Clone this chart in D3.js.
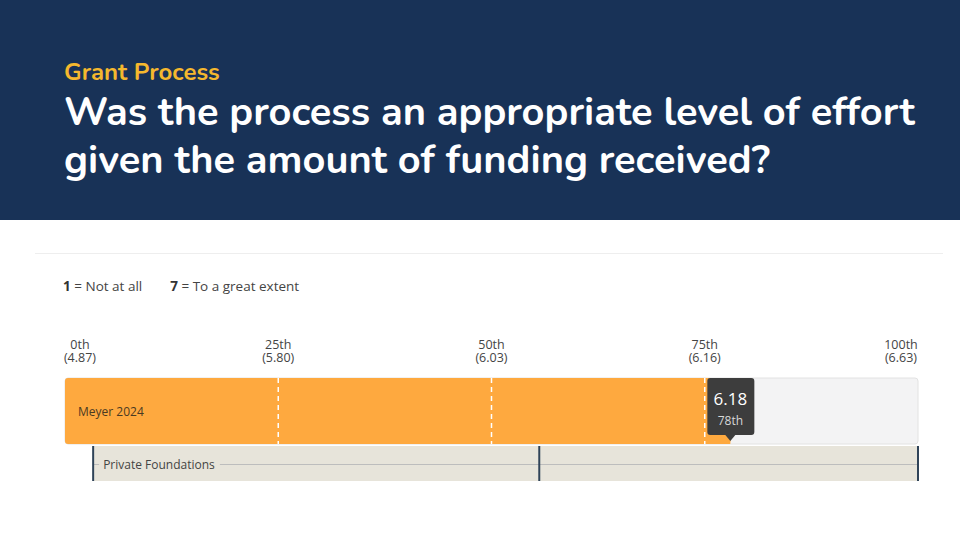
<!DOCTYPE html>
<html>
<head>
<meta charset="utf-8">
<script src="https://cdn.jsdelivr.net/npm/d3@7"></script>
<style>
  body { margin: 0; background: #fff; }
  svg { display: block; }
</style>
</head>
<body>
<div id="chart"></div>
<script>
// data
const tickPercentiles = [0, 25, 50, 75, 100];
const tickLabels = ["0th", "25th", "50th", "75th", "100th"];
const tickValues = ["(4.87)", "(5.80)", "(6.03)", "(6.16)", "(6.63)"];
const scoreName = "Meyer 2024";
const scoreValue = 6.18;
const scorePercentile = 78;
const peerName = "Private Foundations";
const peerMarks = [3.3, 55.6, 100]; // min, median, max percentile
const legendItems = [["1", "Not at all"], ["7", "To a great extent"]];

const W = 960, H = 540;
const svg = d3.select("#chart").append("svg").attr("width", W).attr("height", H);

// header
svg.append("rect").attr("width", W).attr("height", 220).attr("fill", "#183257");
const headFont = "Nunito, Lato, 'Open Sans', sans-serif";
svg.append("text").attr("x", 64).attr("y", 80)
  .attr("font-family", headFont).attr("font-weight", 700).attr("font-size", 24)
  .attr("fill", "#f5b82e").text("Grant Process");
const titleLines = ["Was the process an appropriate level of effort", "given the amount of funding received?"];
titleLines.forEach((t, i) => {
  svg.append("text").attr("x", 64).attr("y", 125 + i * 48)
    .attr("font-family", headFont).attr("font-weight", 700).attr("font-size", 39.8)
    .attr("fill", "#fff").text(t);
});

// separator
svg.append("line").attr("x1", 35).attr("x2", 943).attr("y1", 253.5).attr("y2", 253.5)
  .attr("stroke", "#eeeeee");

const font = "'Open Sans', 'Noto Sans', sans-serif";

// legend
let lx = 63;
legendItems.forEach(([k, v]) => {
  const t = svg.append("text").attr("x", lx).attr("y", 291)
    .attr("font-family", font).attr("font-size", 13.5).attr("fill", "#444");
  t.append("tspan").attr("font-weight", 700).attr("fill", "#333").text(k);
  t.append("tspan").text(" = " + v);
  lx += t.node().getComputedTextLength() + 28;
});

const x = d3.scaleLinear().domain([0, 100]).range([65, 918]);

// tick labels
tickPercentiles.forEach((p, i) => {
  const last = i === tickPercentiles.length - 1;
  const tx = i === 0 ? x(p) + 15 : (last ? x(p) - 17 : x(p));
  const g = svg.append("text").attr("text-anchor", "middle")
    .attr("font-family", font).attr("font-size", 12.5).attr("fill", "#444");
  g.append("tspan").attr("x", tx).attr("y", 349).text(tickLabels[i]);
  g.append("tspan").attr("x", tx).attr("y", 362).text(tickValues[i]);
});

// score bar
const barY = 378, barH = 66;
svg.append("rect").attr("x", x(0)).attr("y", barY).attr("width", x(100) - x(0)).attr("height", barH)
  .attr("rx", 3).attr("fill", "#f3f3f4").attr("stroke", "#e2e2e2");
svg.append("rect").attr("x", x(0)).attr("y", barY).attr("width", x(scorePercentile) - x(0)).attr("height", barH)
  .attr("rx", 3).attr("fill", "#fea93f");
svg.append("rect").attr("x", x(scorePercentile) - 4).attr("y", barY).attr("width", 4).attr("height", barH)
  .attr("fill", "#fea93f");
tickPercentiles.slice(1, -1).forEach(p => {
  svg.append("line").attr("x1", x(p)).attr("x2", x(p)).attr("y1", barY).attr("y2", barY + barH)
    .attr("stroke", "#fff").attr("stroke-width", 1.5).attr("stroke-dasharray", "5,4");
});
svg.append("text").attr("x", 78).attr("y", barY + barH / 2 + 5)
  .attr("font-family", font).attr("font-size", 12).attr("fill", "#4a3a22").text(scoreName);

// tooltip
const tipX = x(scorePercentile);
const tip = svg.append("g");
tip.append("rect").attr("x", tipX - 23).attr("y", barY).attr("width", 47).attr("height", 57)
  .attr("rx", 3).attr("fill", "#3d3d3d");
tip.append("path").attr("d", `M${tipX - 5},${barY + 57} L${tipX},${barY + 63} L${tipX + 5},${barY + 57} Z`)
  .attr("fill", "#3d3d3d");
tip.append("text").attr("x", tipX).attr("y", barY + 27).attr("text-anchor", "middle")
  .attr("font-family", font).attr("font-size", 17).attr("fill", "#fff").text(scoreValue.toFixed(2));
tip.append("text").attr("x", tipX).attr("y", barY + 47).attr("text-anchor", "middle")
  .attr("font-family", font).attr("font-size", 12).attr("fill", "#d8d8d8").text(scorePercentile + "th");

// peer row
const pY = 446, pH = 35;
const peer = svg.append("g");
peer.append("rect").attr("x", x(peerMarks[0])).attr("y", pY).attr("width", x(peerMarks[2]) - x(peerMarks[0]))
  .attr("height", pH).attr("fill", "#e7e4da");
peer.append("line").attr("x1", x(peerMarks[0])).attr("x2", x(peerMarks[2]))
  .attr("y1", pY + pH / 2 + 1).attr("y2", pY + pH / 2 + 1).attr("stroke", "#bdbdbd").attr("stroke-width", 1);
const labelBg = peer.append("rect").attr("fill", "#e7e4da");
const pLabel = peer.append("text").attr("x", x(peerMarks[0]) + 10).attr("y", pY + pH / 2 + 5)
  .attr("font-family", font).attr("font-size", 12).attr("fill", "#444").text(peerName);
const lw = pLabel.node().getComputedTextLength();
labelBg.attr("x", x(peerMarks[0]) + 6).attr("y", pY + pH / 2 - 6).attr("width", lw + 9).attr("height", 13);
peerMarks.forEach(p => {
  peer.append("line").attr("x1", x(p)).attr("x2", x(p)).attr("y1", pY).attr("y2", pY + pH)
    .attr("stroke", "#2f4358").attr("stroke-width", 2);
});
</script>
</body>
</html>
